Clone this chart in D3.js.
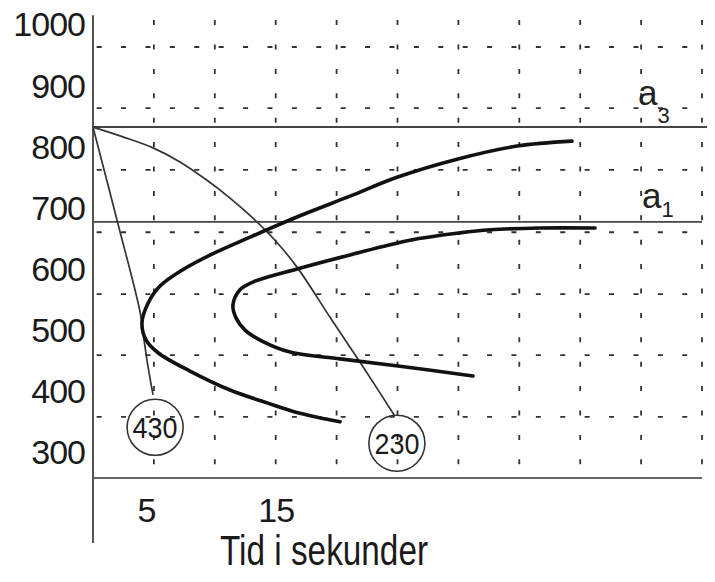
<!DOCTYPE html>
<html lang="no">
<head>
  <meta charset="UTF-8">
  <title>Tid i sekunder</title>
  <script src="https://d3js.org/d3.v7.min.js"></script>
  <style>
    body {
      margin: 0;
      background: #fff;
      font-family: "Liberation Sans", Arial, sans-serif;
    }
    svg { display: block; }
  </style>
</head>
<body>
  <div id="chart"></div>

  <script>
    // tick labels
    const yTickLabels = [1000, 900, 800, 700, 600, 500, 400, 300];
    const xTickLabels = [5, 15];

    // dashed grid (time in s, temperature)
    const gridTimes = [5, 10, 15, 20, 25, 30, 35, 40, 45, 50];
    const gridTemps = [964, 864, 763, 661, 560, 460, 359];

    // reference lines
    const a3Temp = 833;
    const a1Temp = 678;
    const baseTemp = 259;

    // cooling curves [time, temp]
    const cooling430 = [[0, 833], [1.97, 681], [3.86, 531], [4.19, 485], [4.52, 441], [4.93, 395]];
    const cooling230 = [[0, 833], [2.46, 817], [4.93, 799], [7.14, 776], [9.36, 746], [11.25, 717],
                        [13.14, 684], [14.94, 648], [16.75, 604], [19.46, 522], [22.17, 441], [24.79, 360]];

    // transformation start / end curves
    const startCurve = [[39.33, 810], [34.81, 802], [29.97, 781], [24.96, 751], [21.1, 720],
                        [16.99, 688], [12.89, 653], [9.85, 626], [7.31, 599], [5.5, 573],
                        [4.52, 545], [4.02, 513], [4.35, 485], [5.34, 464], [7.96, 434],
                        [11.25, 403], [14.29, 382], [16.99, 365], [20.28, 351]];
    const endCurve = [[41.22, 668], [36.7, 668], [32.59, 665], [30.13, 660], [26.03, 648],
                      [21.1, 624], [16.75, 601], [13.3, 581], [12.07, 567], [11.49, 542],
                      [11.74, 521], [12.48, 501], [13.88, 483], [16.17, 465], [20.28, 454],
                      [25.21, 442], [31.2, 426]];

    // circled end labels
    const circleLabels = ["430", "230"];
    const circleTimes = [5.1, 24.95];
    const circleTemps = [342, 316];

    const svg = d3.select("#chart")
      .append("svg")
      .attr("width", 715)
      .attr("height", 582);

    const x = d3.scaleLinear().domain([0, 50]).range([93, 702]);
    const y = d3.scaleLinear().domain([300, 1000]).range([453, 25]);

    // grid
    const grid = svg.append("g")
      .attr("stroke", "#333")
      .attr("stroke-width", 1.8)
      .attr("stroke-dasharray", "5 19.4");

    grid.selectAll("line.h")
      .data(gridTemps)
      .join("line")
      .attr("class", "h")
      .attr("x1", x(0.3)).attr("x2", x(50))
      .attr("y1", d => y(d)).attr("y2", d => y(d));

    grid.selectAll("line.v")
      .data(gridTimes)
      .join("line")
      .attr("class", "v")
      .attr("x1", d => x(d)).attr("x2", d => x(d))
      .attr("y1", y(1008)).attr("y2", y(baseTemp));

    // a3, a1 and bottom line
    svg.append("line")
      .attr("x1", x(0)).attr("x2", x(50.4))
      .attr("y1", y(a3Temp)).attr("y2", y(a3Temp))
      .attr("stroke", "#444").attr("stroke-width", 2);
    svg.append("line")
      .attr("x1", x(0)).attr("x2", x(50))
      .attr("y1", y(a1Temp)).attr("y2", y(a1Temp))
      .attr("stroke", "#444").attr("stroke-width", 1.8);
    svg.append("line")
      .attr("x1", x(0)).attr("x2", x(50))
      .attr("y1", y(baseTemp)).attr("y2", y(baseTemp))
      .attr("stroke", "#666").attr("stroke-width", 2);

    // y axis line
    svg.append("line")
      .attr("x1", x(0)).attr("x2", x(0))
      .attr("y1", y(1016)).attr("y2", y(153))
      .attr("stroke", "#555").attr("stroke-width", 2);

    // axes labels
    svg.append("g")
      .attr("transform", `translate(${x(0)},0)`)
      .call(d3.axisLeft(y).tickValues(yTickLabels).tickSize(0).tickPadding(8).tickFormat(d3.format("d")))
      .call(g => g.select(".domain").remove())
      .attr("font-family", "'Liberation Sans', Arial, sans-serif")
      .attr("font-size", 34)
      .selectAll("text")
      .attr("fill", "#1a1a1a")
      .attr("letter-spacing", -1);

    svg.append("g")
      .attr("transform", `translate(0,${y(baseTemp)})`)
      .call(d3.axisBottom(x).tickValues(xTickLabels).tickSize(0).tickPadding(20))
      .call(g => g.select(".domain").remove())
      .attr("font-family", "'Liberation Sans', Arial, sans-serif")
      .attr("font-size", 34)
      .selectAll("text")
      .attr("fill", "#1a1a1a")
      .attr("letter-spacing", -1)
      .attr("dx", d => d === 5 ? -8 : 0);

    svg.append("text")
      .attr("x", 324)
      .attr("y", 565)
      .attr("text-anchor", "middle")
      .attr("font-size", 42)
      .attr("fill", "#1a1a1a")
      .attr("textLength", 208)
      .attr("lengthAdjust", "spacingAndGlyphs")
      .text("Tid i sekunder");

    // a3 / a1 labels
    const a3 = svg.append("text").attr("x", 638).attr("y", y(a3Temp) - 22).attr("fill", "#222");
    a3.append("tspan").attr("font-size", 35).text("a");
    a3.append("tspan").attr("font-size", 22).attr("dy", 18).text("3");
    const a1 = svg.append("text").attr("x", 642).attr("y", y(a1Temp) - 14).attr("fill", "#222");
    a1.append("tspan").attr("font-size", 35).text("a");
    a1.append("tspan").attr("font-size", 22).attr("dy", 9).text("1");

    // curves
    const line = d3.line()
      .x(d => x(d[0]))
      .y(d => y(d[1]))
      .curve(d3.curveCatmullRom.alpha(0.5));

    [cooling430, cooling230].forEach(c => {
      svg.append("path")
        .attr("d", line(c))
        .attr("fill", "none")
        .attr("stroke", "#333")
        .attr("stroke-width", 1.7);
    });

    [startCurve, endCurve].forEach(c => {
      svg.append("path")
        .attr("d", line(c))
        .attr("fill", "none")
        .attr("stroke", "#111")
        .attr("stroke-width", 3.6)
        .attr("stroke-linecap", "round");
    });

    // circles
    const circ = svg.selectAll("g.circ")
      .data(circleLabels)
      .join("g")
      .attr("class", "circ")
      .attr("transform", (d, i) => `translate(${x(circleTimes[i])},${y(circleTemps[i])})`);

    circ.append("circle")
      .attr("r", 28)
      .attr("fill", "none")
      .attr("stroke", "#333")
      .attr("stroke-width", 1.6);

    circ.append("text")
      .attr("text-anchor", "middle")
      .attr("dy", "0.36em")
      .attr("font-size", 30)
      .attr("fill", "#1a1a1a")
      .attr("textLength", 45)
      .attr("lengthAdjust", "spacingAndGlyphs")
      .text(d => d);
  </script>
</body>
</html>
